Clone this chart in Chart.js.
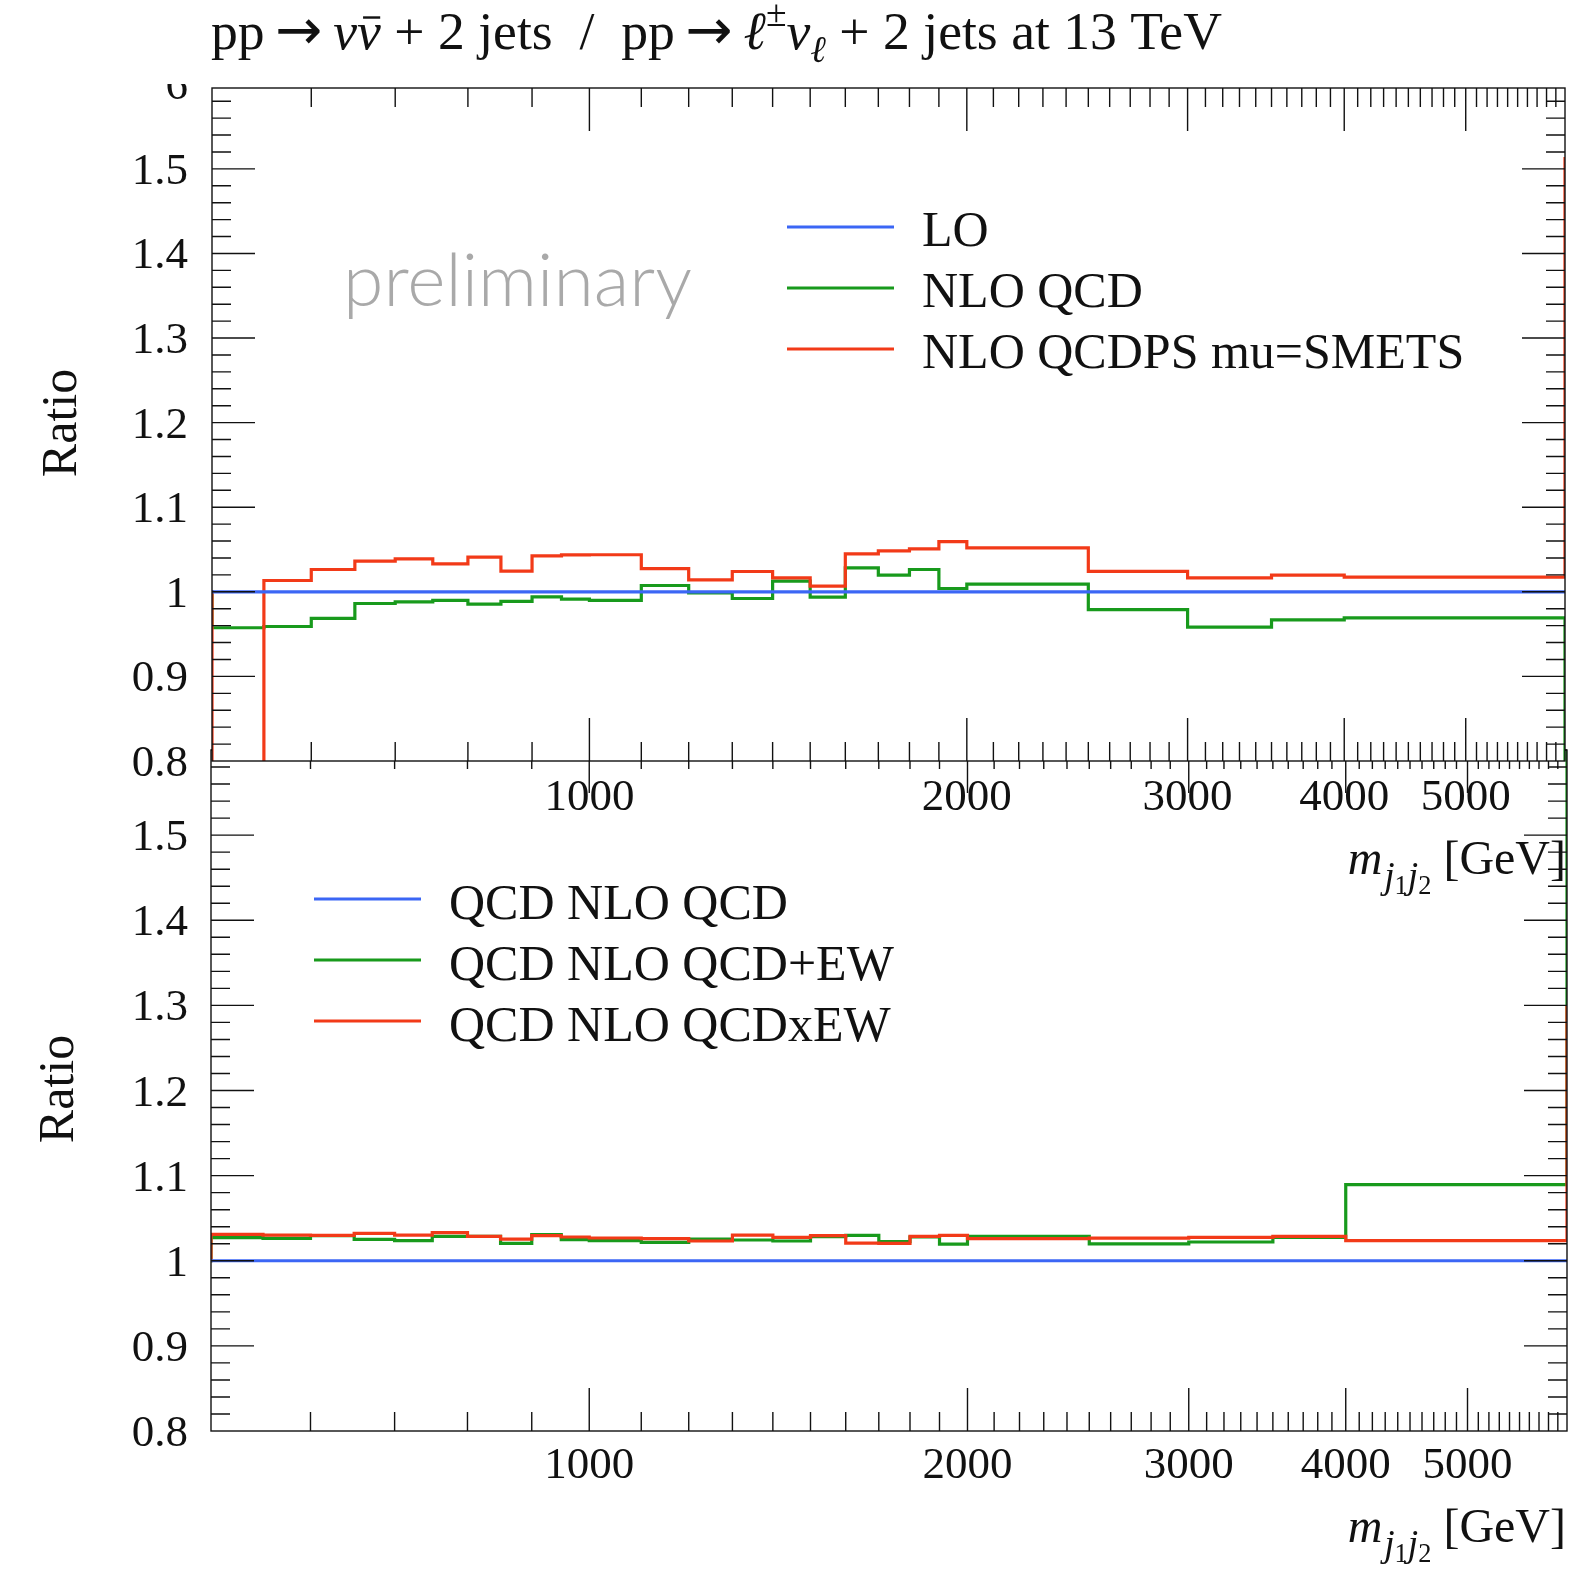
<!DOCTYPE html>
<html>
<head>
<meta charset="utf-8">
<script src="https://cdn.jsdelivr.net/npm/chart.js@4.4.1/dist/chart.umd.min.js"></script>
<style>
  html, body { margin: 0; padding: 0; background: #ffffff; }
  #wrap { position: relative; width: 1589px; height: 1585px; overflow: hidden; background: #ffffff; }
  canvas { position: absolute; left: 0; top: 0; }
  #lower { z-index: 1; }
  #upper { z-index: 2; }
</style>
</head>
<body>
<div id="wrap">
  <canvas id="lower" width="1589" height="1585"></canvas>
  <canvas id="upper" width="1589" height="1585"></canvas>
</div>
<script>
// Bin edges of m_j1j2 in GeV (first and last bins lie just outside the plotted 500-6000 range)
const binEdges = [400, 500, 550, 600, 650, 700, 750, 800, 850, 900, 950, 1000,
                  1100, 1200, 1300, 1400, 1500, 1600, 1700, 1800, 1900, 2000,
                  2500, 3000, 3500, 4000, 6000, 8000];

// Upper panel: ratio nu nubar + 2 jets / l nu + 2 jets
const upperLO = [1, 1, 1, 1, 1, 1, 1, 1, 1, 1, 1, 1, 1, 1, 1, 1, 1, 1, 1, 1, 1, 1, 1, 1, 1, 1, 1];
const upperNLOQCD = [1.0, 0.9575, 0.959, 0.9685, 0.9862, 0.9882, 0.9898, 0.9854, 0.9886, 0.9941, 0.9913,
                     0.9898, 1.0075, 0.9988, 0.9921, 1.0126, 0.9937, 1.0283, 1.0197, 1.0264, 1.0039,
                     1.0091, 0.9789, 0.9583, 0.9669, 0.9693, 0.7];
const upperNLOQCDPS = [1.0, 0.7, 1.0134, 1.0264, 1.0362, 1.039, 1.0331, 1.0409, 1.0244, 1.0425, 1.0437,
                       1.0438, 1.0275, 1.0142, 1.024, 1.0165, 1.0067, 1.0449, 1.0484, 1.0508, 1.0594,
                       1.052, 1.0242, 1.0165, 1.0197, 1.0173, 1.514];

// Lower panel: ratio with electroweak corrections
const lowerNLOQCD = [1, 1, 1, 1, 1, 1, 1, 1, 1, 1, 1, 1, 1, 1, 1, 1, 1, 1, 1, 1, 1, 1, 1, 1, 1, 1, 1];
const lowerNLOQCDplusEW = [1.0, 1.0271, 1.0263, 1.0294, 1.0251, 1.0236, 1.0287, 1.0287, 1.0204, 1.0306, 1.0247,
                           1.0236, 1.0216, 1.0255, 1.0244, 1.0232, 1.0283, 1.0298, 1.0224, 1.0279, 1.0196,
                           1.0287, 1.0198, 1.022, 1.0275, 1.0894, 2.0];
const lowerNLOQCDxEW = [1.0, 1.031, 1.0302, 1.0298, 1.0322, 1.0302, 1.033, 1.0287, 1.0255, 1.0294, 1.0279,
                        1.0267, 1.0259, 1.0232, 1.0302, 1.0275, 1.0294, 1.0208, 1.0204, 1.0287, 1.0298,
                        1.0259, 1.0265, 1.0275, 1.0287, 1.0236, 1.3];

const upperLabels = ['LO', 'NLO QCD', 'NLO QCDPS mu=SMETS'];
const lowerLabels = ['QCD NLO QCD', 'QCD NLO QCD+EW', 'QCD NLO QCDxEW'];
const xTickLabels = [1000, 2000, 3000, 4000, 5000];
const yTickLabels = [0.8, 0.9, 1.0, 1.1, 1.2, 1.3, 1.4, 1.5];

const SERIF = '"Liberation Serif", "DejaVu Serif", serif';
const BLUE = '#3b66f5', GREEN = '#189a1c', RED = '#f23a18';
const INK = '#111111';

function histPoints(values) {
  const pts = values.map((v, i) => ({ x: binEdges[i], y: v }));
  pts.push({ x: binEdges[binEdges.length - 1], y: values[values.length - 1] });
  return pts;
}

function segFont(s, size) {
  return (s.it ? 'italic ' : '') + (size * (s.k || 1)).toFixed(2) + 'px ' + (s.f || SERIF);
}
function richWidth(ctx, segs, size) {
  let w = 0;
  for (const s of segs) { ctx.font = segFont(s, size); w += ctx.measureText(s.t).width + (s.gap || 0) * size; }
  return w;
}
function drawRich(ctx, x, y, segs, size, align) {
  ctx.textAlign = 'left';
  ctx.textBaseline = 'alphabetic';
  let cx = align === 'right' ? x - richWidth(ctx, segs, size) : x;
  for (const s of segs) {
    ctx.font = segFont(s, size);
    const w = ctx.measureText(s.t).width;
    ctx.fillText(s.t, cx, y + (s.dy || 0) * size);
    if (s.bar) ctx.fillRect(cx + 0.25 * w, y - 0.6 * size, w * 0.72, Math.max(1.5, size * 0.045));
    cx += w + (s.gap || 0) * size;
  }
}

const ARROW = '"DejaVu Sans", sans-serif';
const titleSegs = [
  { t: 'pp', gap: 0.2 }, { t: '\u2192', f: ARROW, k: 1.05, gap: 0.2 },
  { t: '\u03bd', it: 1 }, { t: '\u03bd', it: 1, bar: 1 },
  { t: ' + 2 jets  /  pp', gap: 0.2 }, { t: '\u2192', f: ARROW, k: 1.05, gap: 0.2 },
  { t: '\u2113', it: 1 }, { t: '\u00b1', k: 0.7, dy: -0.42 },
  { t: '\u03bd', it: 1 }, { t: '\u2113', it: 1, k: 0.7, dy: 0.25 },
  { t: ' + 2 jets at 13 TeV' }
];
const xLabelSegs = [
  { t: 'm', it: 1, gap: 0.04 },
  { t: 'j', it: 1, k: 0.78, dy: 0.3 }, { t: '1', k: 0.55, dy: 0.42 },
  { t: 'j', it: 1, k: 0.78, dy: 0.3 }, { t: '2', k: 0.55, dy: 0.42 },
  { t: ' [GeV]' }
];

function makePanelPlugin(cfg) {
  return {
    id: cfg.id,
    beforeDraw(chart) {
      if (!cfg.opaque) return;
      const a = chart.chartArea, ctx = chart.ctx;
      ctx.save();
      ctx.fillStyle = '#ffffff';
      ctx.fillRect(a.left, a.top, a.right - a.left, a.bottom - a.top);
      ctx.restore();
    },
    beforeDatasetsDraw(chart) {
      const ctx = chart.ctx;
      ctx.save();
      if (cfg.watermark) {
        ctx.font = '300 100px Lato, "Open Sans", sans-serif';
        const w = ctx.measureText('preliminary').width;
        ctx.font = '300 ' + (100 * 349 / w).toFixed(2) + 'px Lato, "Open Sans", sans-serif';
        ctx.fillStyle = '#a9a9a9';
        ctx.textAlign = 'left';
        ctx.textBaseline = 'alphabetic';
        ctx.fillText('preliminary', 343, 306);
      }
      const L = cfg.legend;
      L.labels.forEach((label, i) => {
        const ly = L.y0 + i * L.dy;
        ctx.strokeStyle = L.colors[i];
        ctx.lineWidth = 3;
        ctx.beginPath();
        ctx.moveTo(L.x0, ly);
        ctx.lineTo(L.x1, ly);
        ctx.stroke();
        ctx.fillStyle = INK;
        ctx.font = '50px ' + SERIF;
        ctx.textAlign = 'left';
        ctx.textBaseline = 'alphabetic';
        ctx.fillText(label, L.tx, ly + L.base);
      });
      ctx.restore();
    },
    afterDatasetsDraw(chart) {
      const ctx = chart.ctx, a = chart.chartArea;
      const xs = chart.scales.x, ys = chart.scales.y;
      ctx.save();
      ctx.strokeStyle = INK;
      ctx.lineWidth = 1.4;
      ctx.strokeRect(a.left, a.top, a.right - a.left, a.bottom - a.top);
      ctx.beginPath();
      // y ticks every 0.02, long ones every 0.1
      for (let k = 41; k <= 80; k++) {
        const v = k / 50;
        if (v > ys.max) break;
        const len = k % 5 === 0 ? 43 : 19;
        const py = ys.getPixelForValue(v);
        ctx.moveTo(a.left, py); ctx.lineTo(a.left + len, py);
        ctx.moveTo(a.right, py); ctx.lineTo(a.right - len, py);
      }
      // x ticks every 100 GeV, long ones every 1000 GeV
      for (let m = 6; m < 60; m++) {
        const len = m % 10 === 0 ? 43 : 19;
        const px = xs.getPixelForValue(m * 100);
        ctx.moveTo(px, a.top); ctx.lineTo(px, a.top + len);
        ctx.moveTo(px, a.bottom); ctx.lineTo(px, a.bottom - len);
      }
      ctx.stroke();
      ctx.restore();
    },
    afterDraw(chart) {
      const ctx = chart.ctx;
      const xs = chart.scales.x, ys = chart.scales.y;
      ctx.save();
      ctx.fillStyle = INK;
      ctx.font = '45px ' + SERIF;
      ctx.textBaseline = 'alphabetic';
      ctx.textAlign = 'right';
      yTickLabels.forEach(v => {
        const py = ys.getPixelForValue(v);
        ctx.fillText(v === 1 ? '1' : v.toFixed(1), 188, py + 15);
      });
      if (cfg.clippedTop) {
        ctx.save();
        ctx.beginPath();
        ctx.rect(163, 84, 40, 20);
        ctx.clip();
        ctx.fillText('1.6', 188, ys.getPixelForValue(1.6) + 15);
        ctx.restore();
      }
      ctx.textAlign = 'center';
      xTickLabels.forEach(v => {
        ctx.fillText(String(v), xs.getPixelForValue(v), cfg.xLabelBase);
      });
      drawRich(ctx, 1566, cfg.xTitleBase, xLabelSegs, 48, 'right');
      // vertical axis title
      ctx.save();
      ctx.translate(cfg.ratioX, cfg.ratioY);
      ctx.rotate(-Math.PI / 2);
      ctx.font = '50px ' + SERIF;
      ctx.textAlign = 'center';
      ctx.textBaseline = 'alphabetic';
      ctx.fillText('Ratio', 0, 0);
      ctx.restore();
      if (cfg.title) {
        const s = 46 * 1011 / richWidth(ctx, titleSegs, 46);
        drawRich(ctx, 211, 48.5, titleSegs, s, 'left');
      }
      ctx.restore();
    }
  };
}

function makeDataset(label, values, color, order) {
  return {
    label: label,
    data: histPoints(values),
    borderColor: color,
    backgroundColor: color,
    borderWidth: 3.2,
    pointRadius: 0,
    pointHoverRadius: 0,
    stepped: 'before',
    fill: false,
    tension: 0,
    order: order
  };
}

function makeChart(canvasId, datasets, padding, yMax, plugin) {
  return new Chart(document.getElementById(canvasId), {
    type: 'line',
    data: { datasets: datasets },
    options: {
      responsive: false,
      animation: false,
      devicePixelRatio: 1,
      events: [],
      layout: { padding: padding },
      plugins: { legend: { display: false }, tooltip: { enabled: false }, title: { display: false } },
      scales: {
        x: { type: 'logarithmic', min: 500, max: 6000, display: false },
        y: { type: 'linear', min: 0.8, max: yMax, display: false }
      }
    },
    plugins: [plugin]
  });
}

// Lower panel (drawn underneath)
makeChart('lower', [
  makeDataset(lowerLabels[0], lowerNLOQCD, BLUE, 0),
  makeDataset(lowerLabels[1], lowerNLOQCDplusEW, GREEN, 2),
  makeDataset(lowerLabels[2], lowerNLOQCDxEW, RED, 1)
], { left: 211, top: 750, right: 22, bottom: 154 }, 1.6, makePanelPlugin({
  id: 'lowerPanel', opaque: false, watermark: false, clippedTop: false, title: false,
  legend: { labels: lowerLabels, colors: [BLUE, GREEN, RED], x0: 314, x1: 421, tx: 449, y0: 899, dy: 61, base: 20 },
  xLabelBase: 1478, xTitleBase: 1542, ratioX: 73, ratioY: 1089
}));

// Upper panel (drawn on top, with an opaque plot area)
makeChart('upper', [
  makeDataset(upperLabels[0], upperLO, BLUE, 0),
  makeDataset(upperLabels[1], upperNLOQCD, GREEN, 2),
  makeDataset(upperLabels[2], upperNLOQCDPS, RED, 1)
], { left: 212, top: 88, right: 24, bottom: 824 }, 1.5956, makePanelPlugin({
  id: 'upperPanel', opaque: true, watermark: true, clippedTop: true, title: true,
  legend: { labels: upperLabels, colors: [BLUE, GREEN, RED], x0: 787, x1: 894, tx: 922, y0: 227, dy: 61, base: 19 },
  xLabelBase: 810, xTitleBase: 874, ratioX: 76, ratioY: 423
}));
</script>
</body>
</html>
